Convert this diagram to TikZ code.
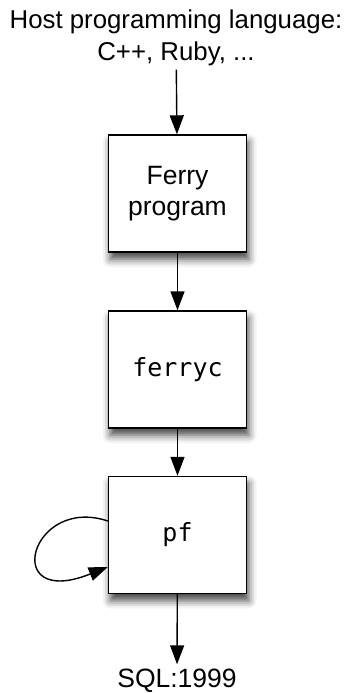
\documentclass[tikz,border=0pt]{standalone}
\usepackage{fontspec}
\setmainfont{Liberation Sans}
\setmonofont{DejaVu Sans Mono}
\usetikzlibrary{arrows.meta,shadows.blur}

\begin{document}
\begin{tikzpicture}[x=1pt, y=-1pt,
	txt/.style={font=\fontsize{26.5}{32}\selectfont, align=center, inner sep=4pt},
	blk/.style={draw, line width=1.4pt, fill=white, rectangle, minimum width=138pt, minimum height=117pt,
		font=\fontsize{26.5}{31}\selectfont, align=center,
		blur shadow={shadow xshift=2pt, shadow yshift=-7pt, shadow blur radius=8pt, shadow opacity=75}},
	code/.style={font=\fontsize{25}{30}\ttfamily},
	seta/.style={-{Triangle[length=19pt,width=14pt]}, line width=1.4pt}
	]
	\useasboundingbox (0,0) rectangle (343,693);

	\node[txt, anchor=base, font=\fontsize{25.8}{32}\selectfont] (host) at (176,60) {Host programming language:\\C++, Ruby, ...};
	\node[blk] (ferry) at (177.5,193.5) {Ferry\\program};
	\node[blk, code] (ferryc) at (177.5,369.5) {ferryc};
	\node[blk, code] (pf) at (177.5,535) {pf};
	\node[txt, anchor=base] (sql) at (177,687) {SQL:1999};

	\draw[seta] (host) -- (ferry);
	\draw[seta] (ferry) -- (ferryc);
	\draw[seta] (ferryc) -- (pf);
	\draw[seta] (pf) -- (sql);
	\draw[seta] ([yshift=14pt]pf.west) .. controls (30,495) and (0,610) .. ([yshift=-32pt]pf.west);
\end{tikzpicture}
\end{document}
